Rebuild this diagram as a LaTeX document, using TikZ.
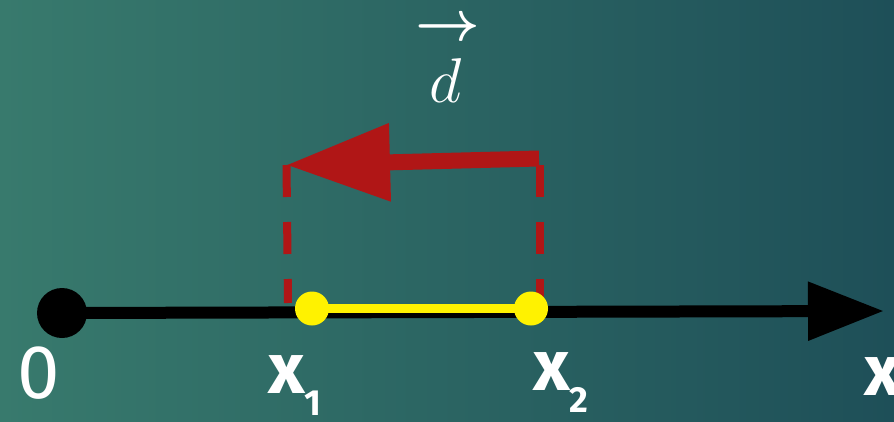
\RequirePackage{fix-cm}
\documentclass[tikz,border=0pt]{standalone}
\usepackage{fontspec}
\newfontfamily\labelfont{Fira Sans}
\usetikzlibrary{arrows.meta}
\definecolor{bgleft}{HTML}{387A6D}
\definecolor{bgright}{HTML}{1E4F58}
\definecolor{darkred}{HTML}{B01616}
\tikzset{
  axisline/.style={line width=0.36cm, black},
  dashline/.style={darkred, line width=0.24cm, dash pattern=on 0.96cm off 0.75cm},
  yline/.style={yellow, line width=0.25cm},
  ydot/.style={circle, fill=yellow, inner sep=0pt, minimum size=1.02cm},
  bdot/.style={circle, fill=black, inner sep=0pt, minimum size=1.5cm},
  lblx/.style={text=white, inner sep=0pt, anchor=base west, font=\labelfont\bfseries\fontsize{61}{61}\selectfont},
  lblzero/.style={text=white, inner sep=0pt, anchor=base west, font=\labelfont\fontsize{65}{65}\selectfont},
  disparrow/.style={darkred, line width=0.48cm, -{Triangle[length=3.12cm,width=2.22cm]}},
}
\begin{document}
\begin{tikzpicture}[x=0.03cm,y=-0.03cm]
  \useasboundingbox (0,0) rectangle (894,422);
  \shade[left color=bgleft, right color=bgright] (0,0) rectangle (894,422);
  % coordinates
  \coordinate (xend) at (884,311);
  \coordinate (c1) at (312,308.5);
  \coordinate (c2) at (531,308.5);
  \coordinate (t1) at (286.5,165);
  \coordinate (b1) at (288,303);
  \coordinate (t2) at (540,165);
  \coordinate (b2) at (540,301);
  \coordinate (ds) at (539,158.5);
  \coordinate (de) at (286,165);
  % dashed guide lines
  \draw[dashline] (t1) -- (b1);
  \draw[dashline] (t2) -- (b2);
  % axis
  \node[bdot] (o) at (62,313) {};
  \draw[axisline, -{Triangle[length=2.28cm,width=1.68cm]}] (o.center) -- (xend);
  % yellow segment
  \draw[yline] (c1) -- (c2);
  \node[ydot] (p1) at (c1) {};
  \node[ydot] (p2) at (c2) {};
  % displacement arrow
  \draw[disparrow] (ds) -- (de);
  % vector label
  \node[text=white, inner sep=0pt, font=\boldmath\fontsize{48}{48}\selectfont] (va) at (448,30) {$\rightarrow$};
  \node[text=white, inner sep=0pt, anchor=base, font=\fontsize{54}{54}\selectfont] (d) at (446,102) {$d$};
  % axis labels
  \node[lblzero] (l0) at (17,398) {0};
  \node[lblx] (lx1) at (268,393) {x\raisebox{-19pt}{\fontsize{31}{31}\selectfont 1}};
  \node[lblx] (lx2) at (533,390) {x\raisebox{-19pt}{\fontsize{31}{31}\selectfont 2}};
  \node[lblx] (lx) at (864,395) {x};
\end{tikzpicture}
\end{document}
